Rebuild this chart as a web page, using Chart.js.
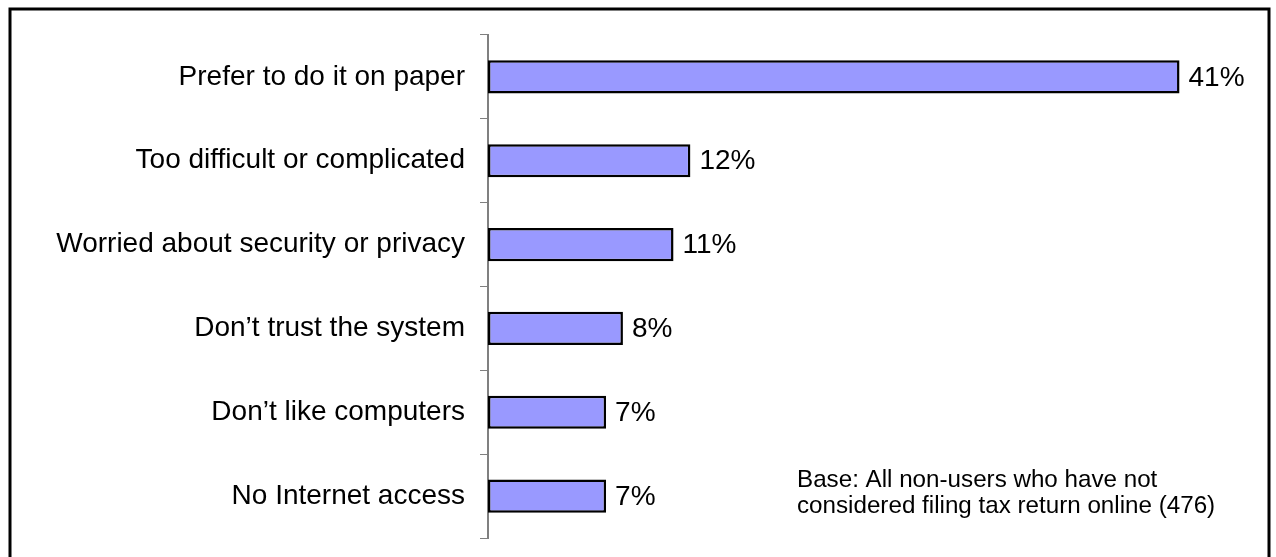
<!DOCTYPE html>
<html>
<head>
<meta charset="utf-8">
<script src="https://cdn.jsdelivr.net/npm/chart.js@4/dist/chart.umd.min.js"></script>
<style>
  html, body { margin: 0; padding: 0; background: #ffffff; }
  #wrap { width: 1276px; height: 557px; position: relative; }
</style>
</head>
<body>
<div id="wrap"><canvas id="c" width="1276" height="557"></canvas></div>
<script>
// Reasons for not filing tax return online
const categories = [
  "Prefer to do it on paper",
  "Too difficult or complicated",
  "Worried about security or privacy",
  "Don\u2019t trust the system",
  "Don\u2019t like computers",
  "No Internet access"
];
const shares = [41, 12, 11, 8, 7, 7];
const valueLabels = ["41%", "12%", "11%", "8%", "7%", "7%"];
const baseNote = [
  "Base: All non-users who have not",
  "considered filing tax return online (476)"
];

const FONT = "'Liberation Sans', Arial, sans-serif";

// Outer frame (open at the bottom) and the base note
const framePlugin = {
  id: 'frame',
  beforeDraw(chart) {
    const ctx = chart.ctx;
    ctx.save();
    ctx.fillStyle = '#ffffff';
    ctx.fillRect(0, 0, chart.width, chart.height);
    ctx.strokeStyle = '#000000';
    ctx.lineWidth = 3;
    ctx.beginPath();
    ctx.moveTo(10, chart.height + 5);
    ctx.lineTo(10, 9);
    ctx.lineTo(1269, 9);
    ctx.lineTo(1269, chart.height + 5);
    ctx.stroke();
    ctx.restore();
  },
  afterDraw(chart) {
    const ctx = chart.ctx;
    ctx.save();
    ctx.fillStyle = '#000000';
    ctx.font = '24.2px ' + FONT;
    ctx.textAlign = 'left';
    ctx.textBaseline = 'alphabetic';
    baseNote.forEach((line, i) => ctx.fillText(line, 797, 487 + i * 26));
    ctx.restore();
  }
};

// Percentage labels to the right of each bar
const valuePlugin = {
  id: 'values',
  afterDatasetsDraw(chart) {
    const ctx = chart.ctx;
    const meta = chart.getDatasetMeta(0);
    ctx.save();
    ctx.fillStyle = '#000000';
    ctx.font = '28px ' + FONT;
    ctx.textAlign = 'left';
    ctx.textBaseline = 'middle';
    meta.data.forEach((bar, i) => {
      ctx.fillText(valueLabels[i], bar.x + 9, bar.y + 1);
    });
    ctx.restore();
  }
};

new Chart(document.getElementById('c'), {
  type: 'bar',
  data: {
    labels: categories,
    datasets: [{
      data: shares,
      backgroundColor: '#9999ff',
      borderColor: '#000000',
      borderWidth: 2.5,
      borderSkipped: false,
      barPercentage: 0.395,
      categoryPercentage: 1.0
    }]
  },
  options: {
    indexAxis: 'y',
    responsive: false,
    animation: false,
    devicePixelRatio: 1,
    layout: { padding: { top: 35, bottom: 19, left: 0, right: 29 } },
    plugins: {
      legend: { display: false },
      tooltip: { enabled: false },
      title: { display: false }
    },
    scales: {
      x: {
        display: false,
        min: 0,
        max: 45
      },
      y: {
        afterFit(scale) {
          scale.width = 488;
          scale.paddingTop = 0;
          scale.paddingBottom = 0;
        },
        grid: {
          offset: true,
          drawOnChartArea: false,
          drawTicks: true,
          tickLength: 8,
          color: '#808080',
          lineWidth: 1
        },
        border: { display: true, color: '#808080', width: 2 },
        ticks: {
          color: '#000000',
          padding: 15,
          font: { family: FONT, size: 28 }
        }
      }
    }
  },
  plugins: [framePlugin, valuePlugin]
});
</script>
</body>
</html>
